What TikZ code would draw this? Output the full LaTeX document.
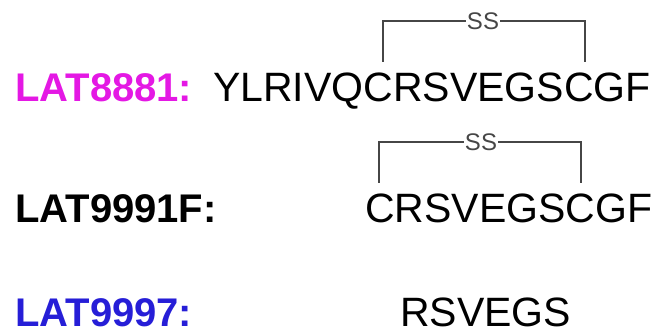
\documentclass[tikz,border=0pt]{standalone}
\usepackage{fontspec}
\setmainfont{Liberation Sans}
\definecolor{labmag}{RGB}{228,24,228}
\definecolor{labblue}{RGB}{38,30,215}
\definecolor{bondgray}{RGB}{70,70,70}
\begin{document}
\begin{tikzpicture}[x=1pt,y=-1pt,
  lab/.style={anchor=base west,inner sep=0pt,font=\fontsize{40}{48}\selectfont\bfseries},
  seq/.style={anchor=base west,inner sep=0pt,font=\fontsize{41}{48}\selectfont},
  ss/.style={inner sep=1pt,text=bondgray,font=\fontsize{24}{26}\selectfont},
  bond/.style={draw=bondgray,line width=1.1pt}]
\useasboundingbox (0,0) rectangle (666,335);
% row 1
\node[lab,text=labmag] (l1) at (15,101) {LAT8881:};
\node[seq] (s1) at (213,101) {YLRIVQCRSVEGSCGF};
\node[ss] (ss1) at (483,21) {SS};
\coordinate (a1) at (383,62);
\coordinate (b1) at (585,62);
\draw[bond] (ss1.west) -- (a1 |- ss1.west) -- (a1);
\draw[bond] (ss1.east) -- (b1 |- ss1.east) -- (b1);
% row 2
\node[lab,text=black] (l2) at (15,222) {LAT9991F:};
\node[seq] (s2) at (365,222) {CRSVEGSCGF};
\node[ss] (ss2) at (481,142) {SS};
\coordinate (a2) at (379,183);
\coordinate (b2) at (581,183);
\draw[bond] (ss2.west) -- (a2 |- ss2.west) -- (a2);
\draw[bond] (ss2.east) -- (b2 |- ss2.east) -- (b2);
% row 3
\node[lab,text=labblue] (l3) at (15,326) {LAT9997:};
\node[seq] (s3) at (400,326) {RSVEGS};
\end{tikzpicture}
\end{document}
